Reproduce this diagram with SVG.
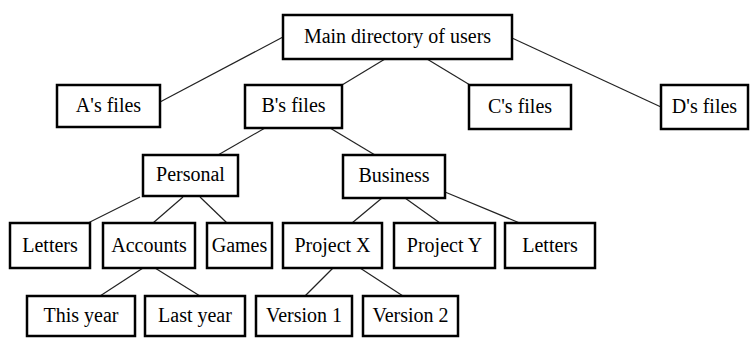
<svg xmlns="http://www.w3.org/2000/svg" width="750" height="338" viewBox="0 0 750 338">
<style>
.box{fill:#fff;stroke:#000;stroke-width:2.5}
.lbl{font-family:"Liberation Serif","Times New Roman",serif;font-size:20px;fill:#000;text-anchor:middle}
.con{stroke:#222;stroke-width:1.2;fill:none}
</style>
<rect width="750" height="338" fill="#fff"/>
<g id="connectors">
<line class="con" x1="283" y1="37" x2="160" y2="102"/>
<line class="con" x1="385" y1="59" x2="342" y2="85"/>
<line class="con" x1="427" y1="59" x2="470" y2="85"/>
<line class="con" x1="512" y1="38" x2="661" y2="107"/>
<line class="con" x1="265" y1="128" x2="218" y2="155"/>
<line class="con" x1="330" y1="128" x2="375" y2="155"/>
<line class="con" x1="140" y1="197" x2="88" y2="223"/>
<line class="con" x1="183" y1="197" x2="153" y2="223"/>
<line class="con" x1="200" y1="197" x2="227" y2="223"/>
<line class="con" x1="382" y1="198" x2="352" y2="223"/>
<line class="con" x1="405" y1="198" x2="440" y2="223"/>
<line class="con" x1="445" y1="192" x2="522" y2="224"/>
<line class="con" x1="143" y1="268" x2="100" y2="296"/>
<line class="con" x1="155" y1="268" x2="200" y2="296"/>
<line class="con" x1="333" y1="268" x2="305" y2="296"/>
<line class="con" x1="360" y1="268" x2="403" y2="296"/>
</g>
<g id="main"><rect class="box" x="283" y="15" width="229" height="44"/><text class="lbl" x="397.5" y="43">Main directory of users</text></g>
<g id="a-files"><rect class="box" x="57" y="85" width="103" height="42"/><text class="lbl" x="108.5" y="112">A's files</text></g>
<g id="b-files"><rect class="box" x="245" y="85" width="97" height="43"/><text class="lbl" x="293.5" y="112">B's files</text></g>
<g id="c-files"><rect class="box" x="469" y="85" width="102" height="44"/><text class="lbl" x="520" y="113">C's files</text></g>
<g id="d-files"><rect class="box" x="661" y="85" width="87" height="44"/><text class="lbl" x="704.5" y="113">D's files</text></g>
<g id="personal"><rect class="box" x="143" y="155" width="95" height="41"/><text class="lbl" x="190.5" y="181">Personal</text></g>
<g id="business"><rect class="box" x="343" y="155" width="102" height="43"/><text class="lbl" x="394" y="182">Business</text></g>
<g id="letters-personal"><rect class="box" x="10" y="223" width="80" height="45"/><text class="lbl" x="50" y="252">Letters</text></g>
<g id="accounts"><rect class="box" x="103" y="223" width="92" height="45"/><text class="lbl" x="149" y="252">Accounts</text></g>
<g id="games"><rect class="box" x="207" y="223" width="65" height="45"/><text class="lbl" x="239.5" y="252">Games</text></g>
<g id="project-x"><rect class="box" x="283" y="223" width="99" height="45"/><text class="lbl" x="332.5" y="252">Project X</text></g>
<g id="project-y"><rect class="box" x="394" y="223" width="101" height="45"/><text class="lbl" x="444.5" y="252">Project Y</text></g>
<g id="letters-business"><rect class="box" x="505" y="223" width="90" height="45"/><text class="lbl" x="550" y="252">Letters</text></g>
<g id="this-year"><rect class="box" x="27" y="296" width="108" height="40"/><text class="lbl" x="81" y="322">This year</text></g>
<g id="last-year"><rect class="box" x="145" y="296" width="100" height="40"/><text class="lbl" x="195" y="322">Last year</text></g>
<g id="version-1"><rect class="box" x="256" y="296" width="96" height="40"/><text class="lbl" x="304" y="322">Version 1</text></g>
<g id="version-2"><rect class="box" x="363" y="296" width="95" height="40"/><text class="lbl" x="410.5" y="322">Version 2</text></g>
</svg>
